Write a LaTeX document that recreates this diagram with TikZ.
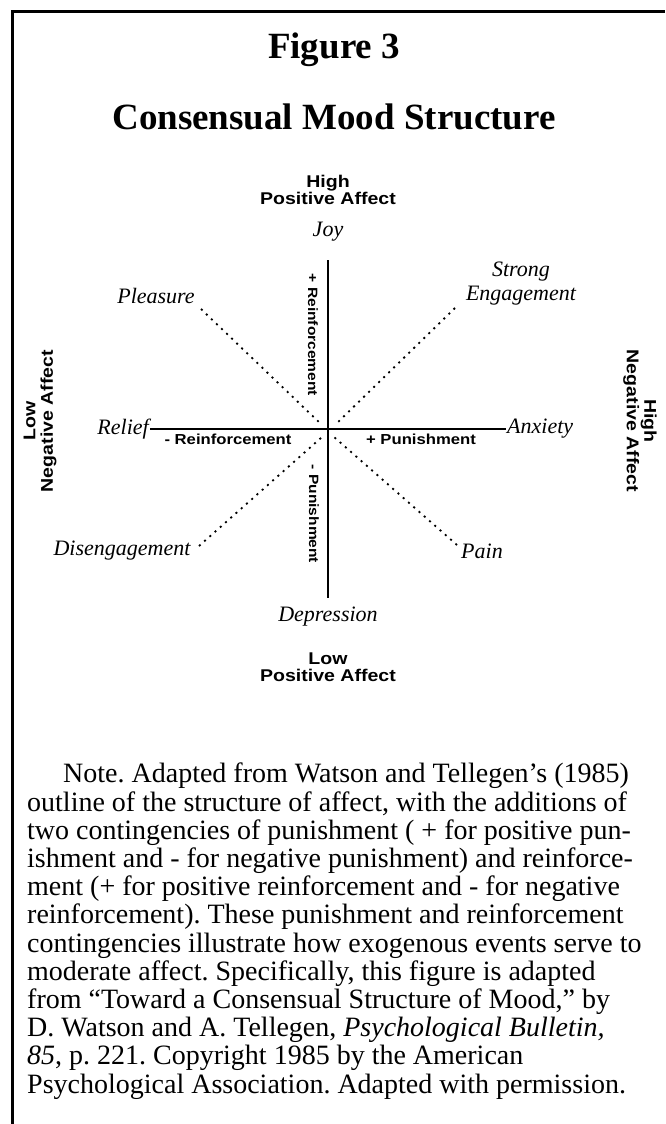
\documentclass[tikz,border=0pt]{standalone}
\usepackage{fontspec}
\setmainfont{Liberation Serif}
\newfontfamily\axisfont{Liberation Sans}[FakeStretch=1.15]
\usetikzlibrary{positioning}

\begin{document}
\begin{tikzpicture}[x=1pt,y=-1pt]
  \tikzset{pole/.style={font=\axisfont\bfseries\fontsize{17}{17.5}\selectfont,align=center,inner sep=0pt},
    mood/.style={font=\itshape\fontsize{22}{24}\selectfont,align=center,inner sep=1pt},
    contin/.style={font=\axisfont\bfseries\fontsize{14.5}{15}\selectfont,inner sep=0pt},
    axisline/.style={line width=1.3pt},
    dotline/.style={line width=1.8pt,dash pattern=on 2pt off 5pt}}
  \useasboundingbox (0,0) rectangle (665,1124);
  % frame
  \draw[line width=3pt] (12,1124) -- (12,12) -- (665,12);
  % title
  \node[font=\bfseries\fontsize{37}{40}\selectfont] (fig) at (334,50) {Figure 3};
  \node[font=\bfseries\fontsize{37}{40}\selectfont] (title) at (334,117) {Consensual Mood Structure};
  % poles
  \node[pole] (highpa) at (328,190) {High\\Positive Affect};
  \node[pole] (lowpa) at (328,667) {Low\\Positive Affect};
  \node[pole,rotate=90] (lowna) at (40,421) {Low\\Negative Affect};
  \node[pole,rotate=-90] (highna) at (640,421) {High\\Negative Affect};
  % moods
  \coordinate (o) at (328,431);
  \node[mood] (joy) at (328,232) {Joy};
  \node[mood] (depression) at (328,617) {Depression};
  \node[mood,anchor=east] (relief) at (150,429) {Relief};
  \node[mood,anchor=west] (anxiety) at (506,429) {Anxiety};
  \node[mood] (pleasure) at (156,296) {Pleasure};
  \node[mood] (strong) at (521,284) {Strong\\Engagement};
  \node[mood] (diseng) at (122,551) {Disengagement};
  \node[mood] (pain) at (482,551) {Pain};
  % axes
  \coordinate (top) at (328,260);
  \coordinate (bot) at (328,598);
  \draw[axisline] (top) -- (bot);
  \draw[axisline] (relief.east) -- (anxiety.west);
  % diagonals
  \coordinate (pl-end) at (322,425);
  \coordinate (se-end) at (335,425);
  \coordinate (de-end) at (322,437);
  \coordinate (pa-end) at (334,437);
  \draw[dotline] (201,309) -- (pl-end);
  \draw[dotline] (455,308) -- (se-end);
  \draw[dotline] (199,546) -- (de-end);
  \draw[dotline] (457,545) -- (pa-end);
  % contingencies
  \node[contin,rotate=-90,font=\axisfont\bfseries\fontsize{13.5}{14}\selectfont] (posrein) at (313,335) {+ Reinforcement};
  \node[contin,rotate=-90,font=\axisfont\bfseries\fontsize{13.5}{14}\selectfont] (negpun) at (314,514) {- Punishment};
  \node[contin] (negrein) at (228,439) {- Reinforcement};
  \node[contin] (pospun) at (421,439) {+ Punishment};
  % note
  \node[anchor=base west,align=left,inner sep=0pt,font=\fontsize{28}{28.2}\selectfont\frenchspacing] (note) at (27,1093) {%
    \hspace*{36pt}Note. Adapted from Watson and Tellegen’s (1985)\\
    outline of the structure of affect, with the additions of\\
    two contingencies of punishment ( + for positive pun-\\
    ishment and - for negative punishment) and reinforce-\\
    ment (+ for positive reinforcement and - for negative\\
    reinforcement). These punishment and reinforcement\\
    contingencies illustrate how exogenous events serve to\\
    moderate affect. Specifically, this figure is adapted\\
    from “Toward a Consensual Structure of Mood,” by\\
    D. Watson and A. Tellegen, \textit{Psychological Bulletin,}\\
    \textit{85}, p. 221. Copyright 1985 by the American\\
    Psychological Association. Adapted with permission.};
\end{tikzpicture}
\end{document}
